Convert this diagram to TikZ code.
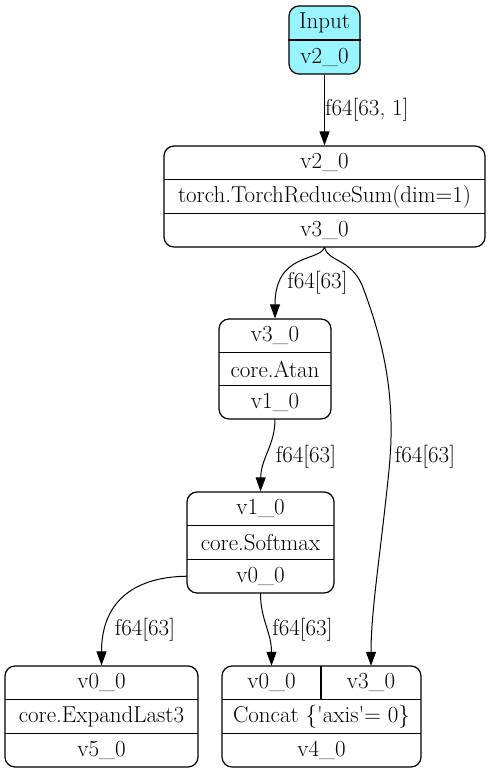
\documentclass[tikz,border=0pt]{standalone}
\usetikzlibrary{arrows.meta}
\definecolor{inputcyan}{RGB}{152,245,255}
\begin{document}
\begin{tikzpicture}[x=1pt,y=-1pt,
    every node/.style={font=\fontsize{23}{27}\selectfont},
    box/.style={draw, line width=1.2pt, rounded corners=10pt, inner sep=0pt},
    cell/.style={inner sep=0pt, minimum height=33.6pt},
    sep/.style={line width=1.2pt},
    edge/.style={line width=1pt, -{Triangle[length=14pt,width=10pt]}},
    lbl/.style={inner sep=0pt}]
  \useasboundingbox (0,0) rectangle (491,774);

  % Input
  \node[box, fill=inputcyan, minimum width=71pt, minimum height=68pt] (input) at (324.5,40) {};
  \draw[sep] (input.west) -- (input.east);
  \node[cell, minimum width=71pt] (inputName) at (324.5,23) {Input};
  \node[cell, minimum width=71pt] (inputOut) at (324.5,57) {v2\_0};

  % ReduceSum
  \node[box, minimum width=321pt, minimum height=101pt] (reduce) at (324.5,196.5) {};
  \draw[sep] (164,179.7) -- (485,179.7);
  \draw[sep] (164,213.3) -- (485,213.3);
  \node[cell, minimum width=321pt] (reduceIn) at (324.5,162.8) {v2\_0};
  \node[cell, minimum width=321pt] (reduceOp) at (324.5,196.5) {torch.TorchReduceSum(dim=1)};
  \node[cell, minimum width=321pt] (reduceOut) at (324.5,230.2) {v3\_0};

  % Atan
  \node[box, minimum width=112pt, minimum height=100pt] (atan) at (275,369) {};
  \draw[sep] (219,352.3) -- (331,352.3);
  \draw[sep] (219,385.7) -- (331,385.7);
  \node[cell, minimum width=112pt] (atanIn) at (275,335.7) {v3\_0};
  \node[cell, minimum width=112pt] (atanOp) at (275,369) {core.Atan};
  \node[cell, minimum width=112pt] (atanOut) at (275,402.3) {v1\_0};

  % Softmax
  \node[box, minimum width=147pt, minimum height=101pt] (softmax) at (260.5,542.5) {};
  \draw[sep] (187,525.7) -- (334,525.7);
  \draw[sep] (187,559.3) -- (334,559.3);
  \node[cell, minimum width=147pt] (smIn) at (260.5,508.8) {v1\_0};
  \node[cell, minimum width=147pt] (smOp) at (260.5,542.5) {core.Softmax};
  \node[cell, minimum width=147pt] (smOut) at (260.5,576.2) {v0\_0};

  % ExpandLast3
  \node[box, minimum width=193pt, minimum height=101pt] (expand) at (101.5,716.5) {};
  \draw[sep] (5,699.7) -- (198,699.7);
  \draw[sep] (5,733.3) -- (198,733.3);
  \node[cell, minimum width=193pt] (expIn) at (101.5,682.8) {v0\_0};
  \node[cell, minimum width=193pt] (expOp) at (101.5,716.5) {core.ExpandLast3};
  \node[cell, minimum width=193pt] (expOut) at (101.5,750.2) {v5\_0};

  % Concat
  \node[box, minimum width=199pt, minimum height=101pt] (concat) at (321.5,716.5) {};
  \draw[sep] (222,699.7) -- (421,699.7);
  \draw[sep] (222,733.3) -- (421,733.3);
  \draw[sep] (321,666) -- (321,699.7);
  \node[cell, minimum width=99pt] (catA) at (271.5,682.8) {v0\_0};
  \node[cell, minimum width=100pt] (catB) at (371,682.8) {v3\_0};
  \node[cell, minimum width=199pt] (catOp) at (321.5,716.5) {Concat \{\textquotesingle axis\textquotesingle = 0\}};
  \node[cell, minimum width=199pt] (catOut) at (321.5,750.2) {v4\_0};

  % edges
  \draw[edge] (input.south) -- (reduce.north);
  \draw[edge] (reduceOut.south) .. controls (320,262) and (275,252) .. (atan.north);
  \draw[edge] (reduceOut.south) .. controls (328,262) and (350,258) .. (362,285)
    .. controls (385,345) and (396,400) .. (389,470)
    .. controls (381,550) and (371,610) .. (catB.north);
  \draw[edge] (atanOut.south) .. controls (275,445) and (261,458) .. (softmax.north);
  \draw[edge] (smOut.west) .. controls (130,577) and (101.5,605) .. (expand.north);
  \draw[edge] (smOut.south) .. controls (260.5,620) and (271.5,632) .. (catA.north);

  % edge labels
  \node[lbl, anchor=west] (l1) at (325,110) {f64[63, 1]};
  \node[lbl] (l2) at (317.5,283) {f64[63]};
  \node[lbl] (l3) at (425,457) {f64[63]};
  \node[lbl] (l4) at (306,457) {f64[63]};
  \node[lbl] (l5) at (145,630) {f64[63]};
  \node[lbl] (l6) at (302.5,630) {f64[63]};
\end{tikzpicture}
\end{document}
